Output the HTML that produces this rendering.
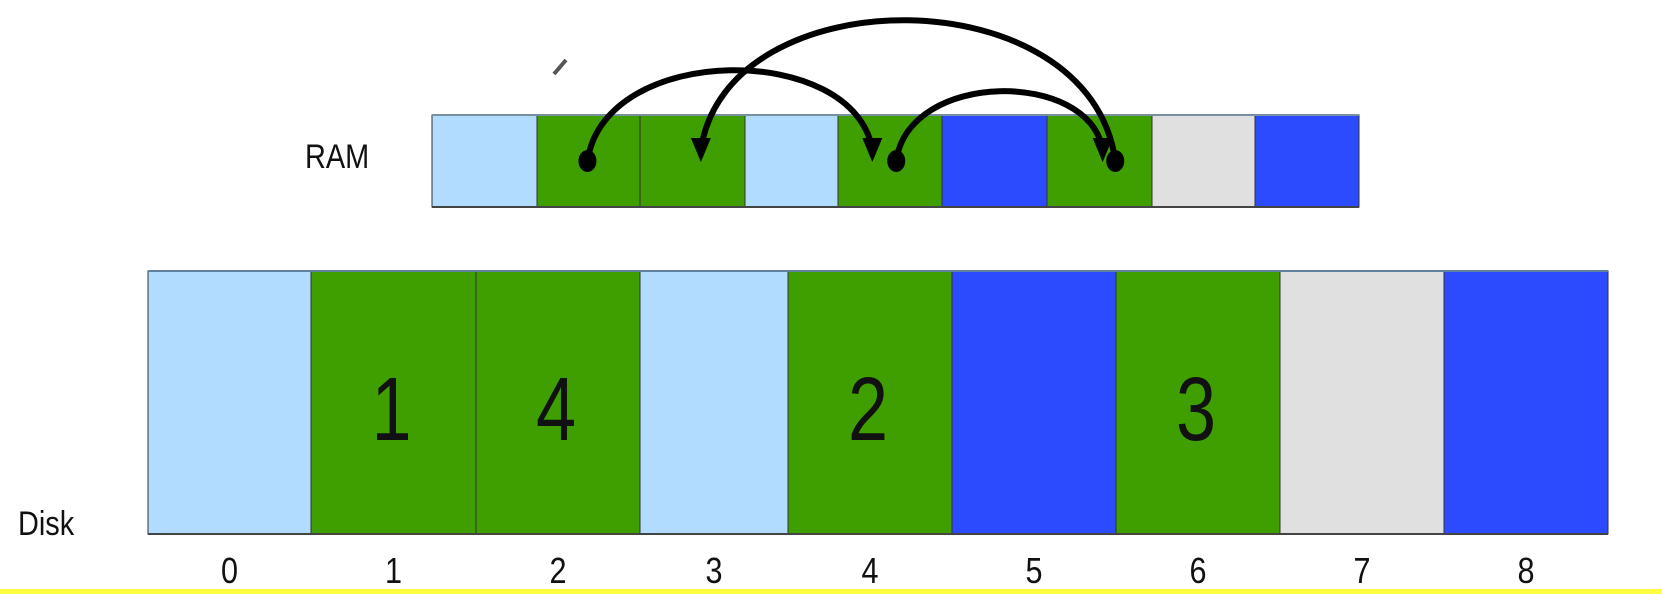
<!DOCTYPE html>
<html><head><meta charset="utf-8"><style>
html,body{margin:0;padding:0;background:#fff;width:1662px;height:596px;overflow:hidden}
svg{display:block}
text{font-family:"Liberation Sans","DejaVu Sans",sans-serif}
</style></head><body>
<svg id="chart" width="1662" height="596" viewBox="0 0 1662 596">
<rect x="0" y="589" width="1662" height="5" fill="#ffff40"/>
<text x="305" y="168" font-size="34" fill="#111" transform="translate(305 0) scale(0.85 1) translate(-305 0)">RAM</text>
<text x="18" y="535" font-size="34" fill="#111" transform="translate(18 0) scale(0.85 1) translate(-18 0)">Disk</text>
<path d="M554 74 L566 60" stroke="#555" stroke-width="4"/>
<g id="ram"></g>
<g id="disk"></g>
<g id="arcs"></g>
</svg>
<script>
const cellTypes = ["light","green","green","light","green","blue","green","grey","blue"];
const ramEdges = [432,537,640,745,838,942,1047,1152,1255,1359];
const diskEdges = [148,311,476,640,788,952,1116,1280,1444,1608];
const diskIndexLabels = ["0","1","2","3","4","5","6","7","8"];
const diskOrderLabels = ["","1","4","","2","","3","",""];
const arcFrom = [1,6,4];
const arcTo = [4,2,6];
const arcPeak = [71,21,92];
const arcFromOffset = [0.49,0.65,0.56];
const arcToOffset = [0.33,0.58,0.53];
const colors = {light:"#b2dcff",green:"#3f9e00",blue:"#2c4bff",grey:"#e0e0e0"};
const NS="http://www.w3.org/2000/svg";
function mk(t,a,p){const e=document.createElementNS(NS,t);for(const k in a)e.setAttribute(k,a[k]);p.appendChild(e);return e;}
const ramG=document.getElementById('ram'), diskG=document.getElementById('disk'), arcG=document.getElementById('arcs');
const ramTop=115, ramBot=207, diskTop=271, diskBot=534;
function ramX(i,f){return ramEdges[i]+(ramEdges[i+1]-ramEdges[i])*f;}
cellTypes.forEach((t,i)=>{
  const r=mk('rect',{x:ramEdges[i],y:ramTop,width:ramEdges[i+1]-ramEdges[i],height:ramBot-ramTop,fill:colors[t],stroke:"#333","stroke-width":1},ramG);
  
  
  const d=mk('rect',{x:diskEdges[i],y:diskTop,width:diskEdges[i+1]-diskEdges[i],height:diskBot-diskTop,fill:colors[t],stroke:"#333","stroke-width":1},diskG);
  
  
  const cx=(diskEdges[i]+diskEdges[i+1])/2;
  const l=mk('text',{x:cx,y:583,"font-size":36,"text-anchor":"middle",fill:"#111",transform:`translate(${cx} 0) scale(0.85 1) translate(${-cx} 0)`},diskG);
  l.textContent=diskIndexLabels[i];
  
  
  if(diskOrderLabels[i]){
    const ox=cx-2;
    const o=mk('text',{x:ox,y:440,"font-size":90,"text-anchor":"middle",fill:"#111",transform:`translate(${ox} 0) scale(0.8 1) translate(${-ox} 0)`},diskG);
    o.textContent=diskOrderLabels[i];
    
    
  }
});
mk('line',{x1:432,y1:ramTop,x2:1359,y2:ramTop,stroke:"#7890a0","stroke-width":2},ramG);
mk('line',{x1:432,y1:ramBot,x2:1359,y2:ramBot,stroke:"#444","stroke-width":2},ramG);
mk('line',{x1:148,y1:diskTop,x2:1608,y2:diskTop,stroke:"#6080a0","stroke-width":2},diskG);
mk('line',{x1:148,y1:diskBot,x2:1608,y2:diskBot,stroke:"#444","stroke-width":2},diskG);
arcFrom.forEach((f,k)=>{
  const x0=ramX(f,arcFromOffset[k]), y0=161, x1=ramX(arcTo[k],arcToOffset[k]), y1=150;
  const cy=(arcPeak[k]-0.125*(y0+y1+6))/0.75;
  const dx=(x1-x0);
  const p=mk('path',{d:`M${x0} ${y0} C${x0+dx*0.06} ${cy} ${x1-dx*0.06} ${cy} ${x1} ${y1}`,fill:"none",stroke:"#000","stroke-width":6},arcG);
  
  
  const dot=mk('ellipse',{cx:x0,cy:y0,rx:9,ry:11,fill:"#000"},arcG);
  
  
  const h=mk('polygon',{points:`${x1-10},${y1-12} ${x1+10},${y1-12} ${x1},${y1+12}`,fill:"#000"},arcG);
  
  
});
</script>
</body></html>
